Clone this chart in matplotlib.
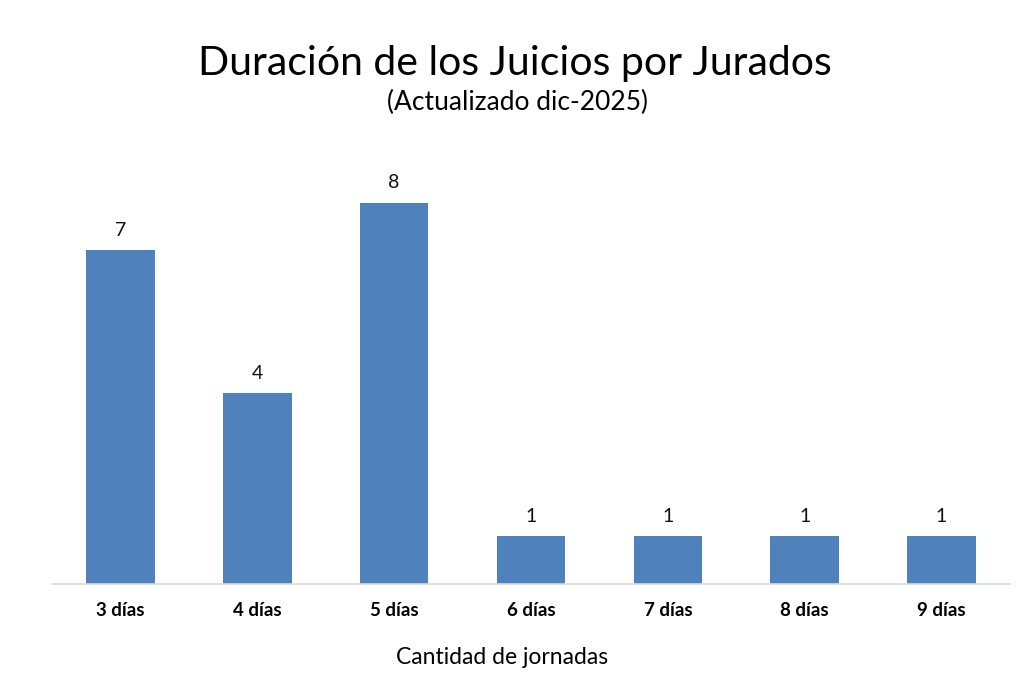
import matplotlib
matplotlib.use("Agg")
import matplotlib.pyplot as plt

plt.rcParams['font.family'] = ['Lato', 'DejaVu Sans']

categorias = ["3 días", "4 días", "5 días", "6 días", "7 días", "8 días", "9 días"]
cantidades = [7, 4, 8, 1, 1, 1, 1]

titulo = "Duración de los Juicios por Jurados"
subtitulo = "(Actualizado dic-2025)"
eje_x = "Cantidad de jornadas"

fig = plt.figure(figsize=(10.24, 6.88), dpi=100)
ax = fig.add_axes([0.0508, 0.151, 0.9355, 0.624])

x = range(len(categorias))
bars = ax.bar(x, cantidades, width=0.5, color="#4F81BD")
ax.set_xlim(-0.5, len(categorias) - 0.5)
ax.set_ylim(0, 9)

# etiquetas de datos sobre las barras
for b, v in zip(bars, cantidades):
    ax.annotate(str(v), (b.get_x() + b.get_width() / 2, v), xytext=(0, 8),
                textcoords="offset points", ha="center", va="bottom",
                fontsize=14, color="#111111")

ax.set_xticks(list(x))
ax.set_xticklabels(categorias, fontsize=13.5, fontweight="bold")
ax.tick_params(axis="x", length=0, pad=13)
ax.set_yticks([])
for s in ["top", "right", "left"]:
    ax.spines[s].set_visible(False)
ax.spines["bottom"].set_color("#D9D9D9")
ax.spines["bottom"].set_linewidth(1.2)

ax.set_xlabel(eje_x, fontsize=16.5)
ax.xaxis.set_label_coords(0.47, -0.17, transform=ax.transAxes)
ax.xaxis.label.set_va("center")

fig.text(0.503, 0.908, titulo, ha="center", va="center", fontsize=29.5)
fig.text(0.505, 0.851, subtitulo, ha="center", va="center", fontsize=19)

fig.savefig("out.png", dpi=100, facecolor="white")
